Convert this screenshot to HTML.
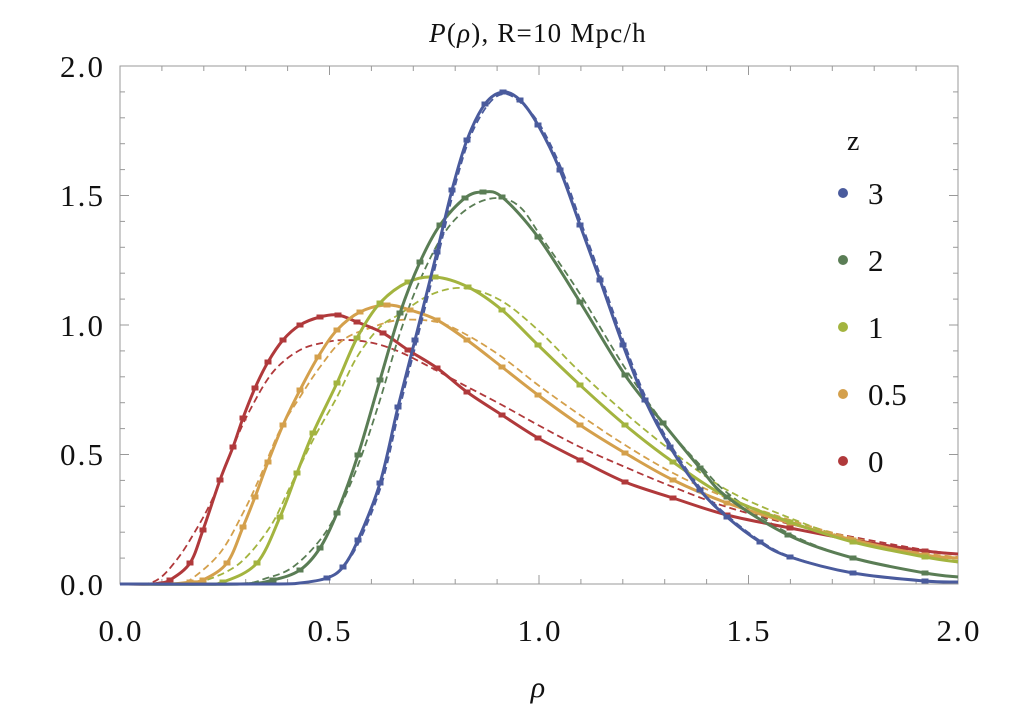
<!DOCTYPE html><html><head><meta charset="utf-8"><style>
body{margin:0;background:#fff;width:1024px;height:710px;overflow:hidden}
svg text{font-family:"Liberation Serif",serif;fill:#111}
</style></head><body>
<svg id="s" width="1024" height="710" xmlns="http://www.w3.org/2000/svg">
<text x="538" y="42" font-size="27" letter-spacing="1.2" text-anchor="middle"><tspan font-style="italic">P</tspan>(<tspan font-style="italic">ρ</tspan>), R=10 Mpc/h</text>
<rect x="120" y="66" width="838" height="518" fill="none" stroke="#999" stroke-width="1"/>
<g id="ticks" stroke="#999" stroke-width="1"></g>
<g font-size="31" text-anchor="end">
<text x="103" y="595" textLength="43">0.0</text><text x="103" y="465" textLength="43">0.5</text><text x="103" y="336" textLength="43">1.0</text><text x="103" y="206" textLength="43">1.5</text><text x="103" y="77" textLength="43">2.0</text>
</g>
<g font-size="31" text-anchor="middle">
<text x="120" y="641" textLength="43">0.0</text><text x="329" y="641" textLength="43">0.5</text><text x="539" y="641" textLength="43">1.0</text><text x="748" y="641" textLength="43">1.5</text><text x="958" y="641" textLength="43">2.0</text>
</g>
<text x="538" y="697" font-size="30" font-style="italic" text-anchor="middle">ρ</text>
<g id="curves" fill="none"></g>
<g font-size="31">
<text x="847" y="150" font-size="28">z</text>
<circle cx="843" cy="193" r="5" fill="#4a5b9d"/><text x="868" y="204">3</text>
<circle cx="843" cy="260" r="5" fill="#5a7d55"/><text x="868" y="271">2</text>
<circle cx="843" cy="327" r="5" fill="#a3b43f"/><text x="868" y="338">1</text>
<circle cx="843" cy="394" r="5" fill="#d4a04c"/><text x="868" y="405">0.5</text>
<circle cx="843" cy="461" r="5" fill="#b0393b"/><text x="868" y="472">0</text>
</g>
</svg>
<script>
var t=document.getElementById("ticks"),h="";
for(var i=0;i<=20;i++){var x=120+i*41.9,L=i%5==0?9:5;h+='<line x1="'+x+'" y1="584" x2="'+x+'" y2="'+(584-L)+'"/><line x1="'+x+'" y1="66" x2="'+x+'" y2="'+(66+L)+'"/>';}
for(var i=0;i<=20;i++){var y=584-i*25.9,L=i%5==0?9:5;h+='<line x1="120" y1="'+y+'" x2="'+(120+L)+'" y2="'+y+'"/><line x1="958" y1="'+y+'" x2="'+(958-L)+'" y2="'+y+'"/>';}
t.innerHTML=h;
function cr(p){var d="M"+p[0][0]+","+p[0][1];for(var i=0;i<p.length-1;i++){var p0=p[i-1]||p[i],p1=p[i],p2=p[i+1],p3=p[i+2]||p2;
d+=" C"+(p1[0]+(p2[0]-p0[0])/6)+","+(p1[1]+(p2[1]-p0[1])/6)+" "+(p2[0]-(p3[0]-p1[0])/6)+","+(p2[1]-(p3[1]-p1[1])/6)+" "+p2[0]+","+p2[1];}return d;}
var S={
b:["#4a5b9d",[[120,584],[270,584],[300,583],[327,578],[343,567],[358,540],[380,483],[398,407],[415,340],[437,252],[452,190],[467,140],[485,104],[503,92],[520,100],[538,125],[560,170],[580,225],[600,280],[623,345],[645,400],[670,447],[700,490],[727,517],[760,542],[790,557],[853,573],[925,581],[958,582]]],
g:["#5a7d55",[[120,584],[240,584],[273,580],[300,570],[320,548],[337,513],[358,455],[380,380],[400,313],[420,262],[440,225],[465,198],[483,192],[502,197],[538,237],[580,302],[625,375],[663,423],[700,468],[727,497],[788,535],[853,558],[925,573],[958,577]],
 [[120,584],[235,584],[267,578],[293,567],[320,540],[340,507],[360,460],[380,400],[400,333],[420,280],[445,232],[470,207],[497,198],[520,207],[542,238],[580,294],[625,368],[665,425],[700,465],[730,495],[790,534],[853,558],[925,573],[958,577]]],
y:["#a3b43f",[[120,584],[200,584],[223,582],[257,563],[280,517],[297,473],[313,433],[337,383],[357,338],[380,303],[408,282],[435,277],[468,287],[502,310],[538,345],[580,385],[625,425],[673,462],[727,497],[790,522],[853,542],[925,557],[958,562]],
 [[120,584],[185,584],[207,580],[240,563],[270,527],[290,487],[313,440],[337,397],[357,357],[380,327],[400,314],[430,295],[463,288],[500,300],[538,330],[580,372],[625,413],[673,452],[727,490],[790,518],[853,540],[925,556],[958,561]]],
o:["#d4a04c",[[120,584],[170,584],[190,582],[203,580],[227,563],[243,527],[255,497],[268,462],[283,425],[300,390],[318,357],[337,330],[360,312],[387,305],[410,310],[437,320],[467,340],[502,367],[538,395],[580,425],[625,453],[673,480],[727,503],[790,523],[853,540],[925,555],[958,558]],
 [[120,584],[175,584],[190,580],[220,553],[243,513],[260,477],[280,430],[300,397],[320,367],[343,340],[373,327],[400,320],[437,322],[467,335],[502,357],[538,385],[580,415],[625,445],[673,473],[727,498],[790,520],[853,538],[925,553],[958,557]]],
r:["#b0393b",[[120,584],[150,584],[160,583],[170,580],[190,563],[203,530],[220,480],[233,447],[243,418],[255,388],[268,362],[283,340],[300,325],[320,317],[338,315],[357,322],[383,333],[408,350],[437,368],[467,392],[502,415],[538,438],[580,460],[625,482],[673,498],[727,515],[790,528],[853,540],[925,551],[958,554]],
 [[120,584],[145,584],[160,578],[175,562],[190,540],[212,500],[233,447],[250,410],[273,372],[300,350],[327,342],[347,340],[373,343],[400,352],[430,367],[460,383],[502,405],[538,425],[580,447],[625,467],[673,487],[727,507],[790,524],[853,537],[925,550],[958,554]]]
};
S.b[2]=S.b[1].map(function(p){return [p[0]+(p[1]<560&&p[1]>100?2:0),p[1]+(p[1]<110?2:0)];});
var c=document.getElementById("curves"),out="";
["r","o","y","g","b"].forEach(function(k){var s=S[k];
out+='<path d="'+cr(s[2])+'" stroke="'+s[0]+'" stroke-width="1.8" stroke-dasharray="7,4"/>';});
["r","o","y","g","b"].forEach(function(k){var s=S[k];
out+='<path d="'+cr(s[1])+'" stroke="'+s[0]+'" stroke-width="3"/>';
s[1].forEach(function(p,i){if(i>1&&p[0]<955&&p[1]<583)out+='<rect x="'+(p[0]-3.5)+'" y="'+(p[1]-2.5)+'" width="7" height="5" fill="'+s[0]+'"/>';});});
c.innerHTML=out;
</script>
</body></html>
